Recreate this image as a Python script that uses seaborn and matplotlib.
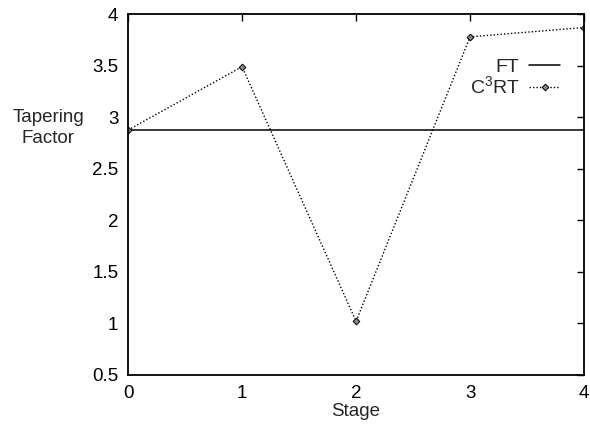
import numpy as np
import pandas as pd
import matplotlib
matplotlib.use("Agg")
import matplotlib.pyplot as plt
import seaborn as sns

stages = [0, 1, 2, 3, 4]
ft_values = [2.875, 2.875, 2.875, 2.875, 2.875]
c3rt_values = [2.875, 3.49, 1.02, 3.78, 3.87]
y_ticks = [0.5, 1, 1.5, 2, 2.5, 3, 3.5, 4]
y_labels = ["0.5", "1", "1.5", "2", "2.5", "3", "3.5", "4"]

sns.set_theme(style="white")
plt.rcParams["font.family"] = ["Liberation Sans", "DejaVu Sans"]
plt.rcParams["mathtext.fontset"] = "custom"
plt.rcParams["mathtext.rm"] = "Liberation Sans"

df = pd.DataFrame({"Stage": stages * 2,
                   "Tapering Factor": ft_values + c3rt_values,
                   "series": ["FT"] * 5 + ["C3RT"] * 5})

fig = plt.figure(figsize=(5.9, 4.28), dpi=100)
ax = fig.add_axes([0.217, 0.124, 0.773, 0.843])

sns.lineplot(data=df[df.series == "FT"], x="Stage", y="Tapering Factor",
             color="black", lw=1.1, ax=ax, label="FT")
sns.lineplot(data=df[df.series == "C3RT"], x="Stage", y="Tapering Factor",
             color="black", lw=1.0, linestyle=(0, (1, 1.5)), marker="D",
             markersize=3.4, markerfacecolor="#888888", markeredgecolor="black",
             markeredgewidth=0.7, ax=ax, label="C$^{3}$RT")

ax.set_xlim(0, 4)
ax.set_ylim(0.5, 4)
ax.set_xticks(stages)
ax.set_yticks(y_ticks)
ax.set_yticklabels(y_labels)
ax.tick_params(direction="in", length=5, width=1, top=True, right=True,
               labelsize=13.5, pad=7, colors="black")
for s in ax.spines.values():
    s.set_color("black")
    s.set_linewidth(1.3)

ax.set_xlabel("Stage", fontsize=13.5, labelpad=1)
ax.set_ylabel("Tapering\nFactor", fontsize=13.5, rotation=0, ha="center", va="center",
              linespacing=1.3)
ax.yaxis.set_label_coords(-0.175, 0.684)

leg = ax.legend(loc="upper right", bbox_to_anchor=(0.965, 0.9), frameon=False,
                markerfirst=False, fontsize=14, handlelength=1.6,
                handletextpad=0.5, labelspacing=0.0, borderaxespad=0)
for t in leg.get_texts():
    t.set_ha("right")

fig.savefig("out.png", dpi=100)
